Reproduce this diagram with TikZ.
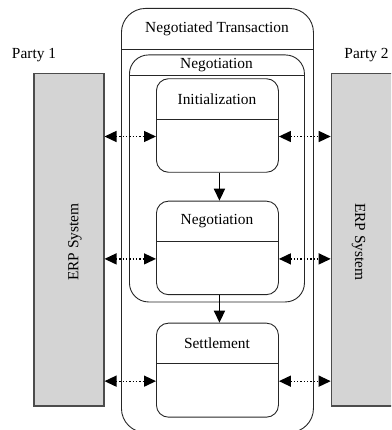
\documentclass[tikz,border=0pt]{standalone}
\usepackage{fontspec}
\setmainfont{Liberation Serif}
\usetikzlibrary{arrows.meta}
\begin{document}
\begin{tikzpicture}[x=1pt,y=-1pt,
  lbl/.style={font=\fontsize{15.4}{18}\selectfont, inner sep=0pt},
  stbox/.style={draw=black!85, line width=0.9pt, inner sep=0pt, anchor=north west},
  erp/.style={draw=black!70, line width=1.2pt, fill=black!17, inner sep=0pt, anchor=north west, minimum width=70pt, minimum height=332pt},
  tip/.style={Triangle[length=12pt,width=11pt]},
  dotarr/.style={dotted, line width=1.3pt, {Triangle[length=12pt,width=11pt]}-{Triangle[length=12pt,width=11pt]}},
  flow/.style={line width=1.6pt, -{Triangle[length=12pt,width=11pt]}}
]
\useasboundingbox (0,0) rectangle (391,430);
\clip (0,0) rectangle (391,430);

% outer transaction container
\node[stbox, rounded corners=24pt, minimum width=192pt, minimum height=424pt] (trans) at (121,8) {};
\draw[black!85, line width=0.9pt] ([yshift=-41pt]trans.north west) -- ([yshift=-41pt]trans.north east);
\node[lbl] (transL) at (217,29) {Negotiated Transaction};

% negotiation container
\node[stbox, rounded corners=19pt, minimum width=175pt, minimum height=247pt] (nego) at (129,54.5) {};
\draw[black!85, line width=0.9pt] ([yshift=-20.5pt]nego.north west) -- ([yshift=-20.5pt]nego.north east);
\node[lbl] (negoL) at (216.5,65) {Negotiation};

% state boxes
\node[stbox, rounded corners=12pt, minimum width=122pt, minimum height=93.5pt] (init) at (156,78.3) {};
\draw[black!85, line width=0.9pt] ([yshift=-40.7pt]init.north west) -- ([yshift=-40.7pt]init.north east);
\node[lbl] (initL) at (217,99) {Initialization};

\node[stbox, rounded corners=12pt, minimum width=122pt, minimum height=93.5pt] (neg) at (156,200.7) {};
\draw[black!85, line width=0.9pt] ([yshift=-40.5pt]neg.north west) -- ([yshift=-40.5pt]neg.north east);
\node[lbl] (negL) at (217,221) {Negotiation};

\node[stbox, rounded corners=12pt, minimum width=122pt, minimum height=94pt] (sett) at (156,322.7) {};
\draw[black!85, line width=0.9pt] ([yshift=-40.6pt]sett.north west) -- ([yshift=-40.6pt]sett.north east);
\node[lbl] (settL) at (217,343) {Settlement};

% ERP systems
\node[erp] (erp1) at (33.3,73.3) {};
\node[erp] (erp2) at (330.7,73.3) {};
\node[lbl, rotate=90] (erp1L) at (75,242) {ERP System};
\node[lbl, rotate=-90] (erp2L) at (358.5,242) {ERP System};

\node[lbl] (p1) at (34,55) {Party 1};
\node[lbl] (p2) at (366.5,55) {Party 2};

% flow arrows
\draw[flow] ([xshift=2pt]init.south) -- ([xshift=2pt]neg.north);
\draw[flow] ([xshift=2pt]neg.south) -- ([xshift=2pt]sett.north);

% exchange arrows
\coordinate (c1) at ([yshift=-11pt]init.center);
\coordinate (c2) at ([yshift=-11pt]neg.center);
\coordinate (c3) at ([yshift=-11pt]sett.center);
\draw[dotarr] (erp1.east |- c1) -- (init.west |- c1);
\draw[dotarr] (init.east |- c1) -- (erp2.west |- c1);
\draw[dotarr] (erp1.east |- c2) -- (neg.west |- c2);
\draw[dotarr] (neg.east |- c2) -- (erp2.west |- c2);
\draw[dotarr] (erp1.east |- c3) -- (sett.west |- c3);
\draw[dotarr] (sett.east |- c3) -- (erp2.west |- c3);
\end{tikzpicture}
\end{document}
